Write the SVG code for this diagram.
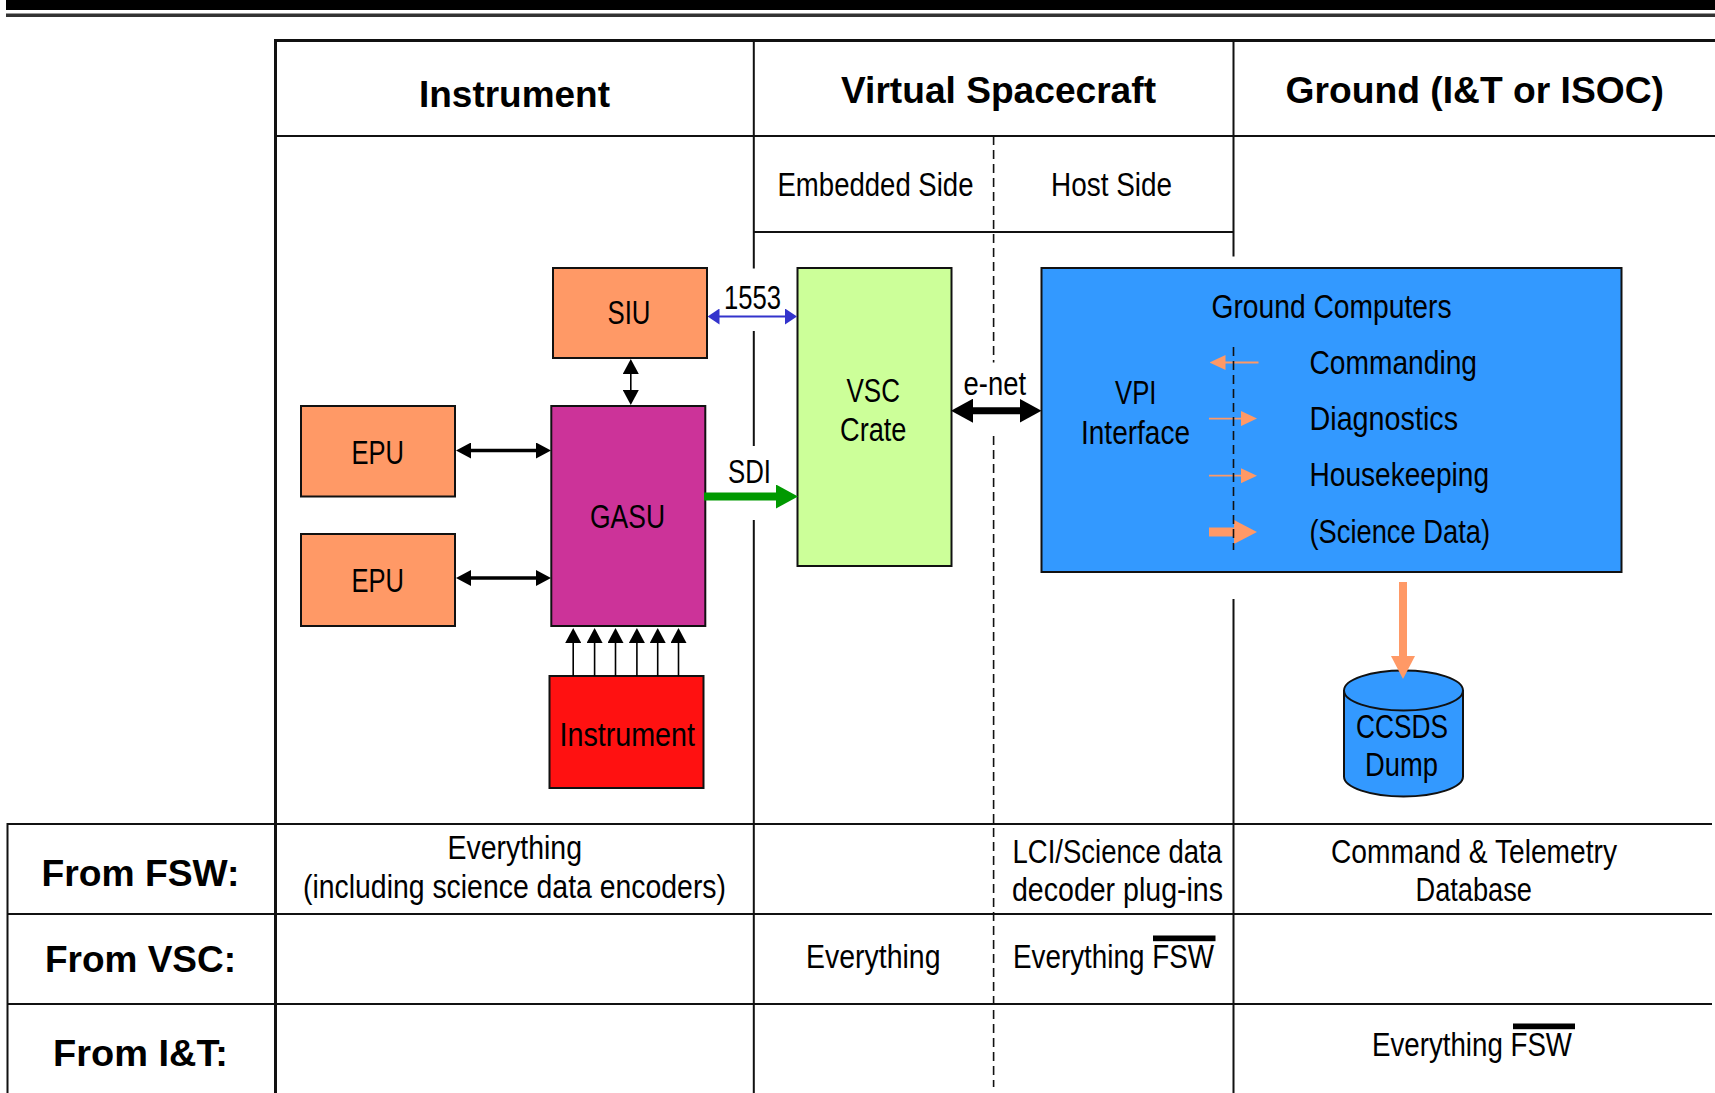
<svg xmlns="http://www.w3.org/2000/svg" width="1715" height="1093" viewBox="0 0 1715 1093">
<style>
text{font-family:"Liberation Sans",Arial,sans-serif;fill:#000;font-size:33px}
.b{font-weight:bold;font-size:37px}
.g{fill:none;stroke:#111;stroke-width:2}
.thick{fill:none;stroke:#111;stroke-width:3}
.d{fill:none;stroke:#111;stroke-width:1.6;stroke-dasharray:9 5}
.n{stroke:#111;stroke-width:2}
.or{fill:#ff9966}.mg{fill:#cc3399}.lg{fill:#ccff99}.bl{fill:#3399ff}.rd{fill:#ff1111}
.a1{fill:none;stroke:#000;stroke-width:1.6}
</style>
<defs>
<marker id="k" markerUnits="userSpaceOnUse" markerWidth="15" markerHeight="16" refX="1" refY="8" orient="auto-start-reverse"><path d="M0 0L15 8L0 16Z" fill="#000"/></marker>
<marker id="u" markerUnits="userSpaceOnUse" markerWidth="12" markerHeight="16" refX="1" refY="8" orient="auto-start-reverse"><path d="M0 0L12 8L0 16Z" fill="#3333cc"/></marker>
<marker id="K" markerUnits="userSpaceOnUse" markerWidth="22" markerHeight="24" refX="1" refY="12" orient="auto-start-reverse"><path d="M0 0L22 12L0 24Z" fill="#000"/></marker>
<marker id="G" markerUnits="userSpaceOnUse" markerWidth="22" markerHeight="24" refX="1" refY="12" orient="auto"><path d="M0 0L22 12L0 24Z" fill="#009900"/></marker>
<marker id="o" markerUnits="userSpaceOnUse" markerWidth="16" markerHeight="15" refX="1" refY="7.5" orient="auto"><path d="M0 0L16 7.5L0 15Z" fill="#ff9966"/></marker>
<marker id="O" markerUnits="userSpaceOnUse" markerWidth="23" markerHeight="24" refX="1" refY="12" orient="auto"><path d="M0 0L23 12L0 24Z" fill="#ff9966"/></marker>
</defs>
<g id="top-rule">
<rect x="6" y="0" width="1709" height="10" fill="#000"/>
<rect x="6" y="13.5" width="1709" height="3.5" fill="#333"/>
</g>
<g id="table">
<path class="thick" d="M275.5 1093V40.5H1715"/>
<path class="g" d="M275.5 136H1715M754 232H1233.5M7.5 1093V824H1712M7.5 914H1712M7.5 1004H1712"/>
<path class="g" d="M753.8 40V268.5M753.8 331V446M753.8 520V1093M1233.5 40V256.5M1233.5 599V1093"/>
<path class="d" d="M993.6 136V362.5M993.6 436V1087"/>
</g>
<g id="headers">
<text class="b" x="419" y="107" textLength="191" lengthAdjust="spacingAndGlyphs">Instrument</text>
<text class="b" x="841" y="102.5" textLength="315" lengthAdjust="spacingAndGlyphs">Virtual Spacecraft</text>
<text class="b" x="1285.5" y="102.5" textLength="378.5" lengthAdjust="spacingAndGlyphs">Ground (I&amp;T or ISOC)</text>
<text x="777.5" y="196" textLength="196" lengthAdjust="spacingAndGlyphs">Embedded Side</text>
<text x="1051" y="196" textLength="121" lengthAdjust="spacingAndGlyphs">Host Side</text>
</g>
<g id="siu"><rect class="n or" x="553" y="268" width="154" height="90"/><text x="607.5" y="324" textLength="43" lengthAdjust="spacingAndGlyphs">SIU</text></g>
<g id="gasu"><rect class="n mg" x="551.3" y="406" width="154" height="220"/><text x="590" y="527.5" textLength="75" lengthAdjust="spacingAndGlyphs">GASU</text></g>
<g id="epu1"><rect class="n or" x="301" y="406" width="154" height="90.5"/><text x="351.5" y="464" textLength="52.5" lengthAdjust="spacingAndGlyphs">EPU</text></g>
<g id="epu2"><rect class="n or" x="301" y="534" width="154" height="92"/><text x="351.5" y="592" textLength="52.5" lengthAdjust="spacingAndGlyphs">EPU</text></g>
<g id="instrument"><rect class="n rd" x="549.5" y="676" width="154" height="112"/><text x="559.5" y="746" textLength="135.5" lengthAdjust="spacingAndGlyphs">Instrument</text></g>
<g id="vsc-crate"><rect class="n lg" x="797.5" y="268" width="154" height="298"/><text x="846.5" y="402" textLength="53.5" lengthAdjust="spacingAndGlyphs">VSC</text><text x="840" y="441" textLength="66.5" lengthAdjust="spacingAndGlyphs">Crate</text></g>
<g id="ground-computers"><rect class="n bl" x="1041.5" y="268" width="580" height="304"/>
<text x="1211.5" y="318" textLength="240" lengthAdjust="spacingAndGlyphs">Ground Computers</text>
<text x="1115" y="404" textLength="41.5" lengthAdjust="spacingAndGlyphs">VPI</text>
<text x="1081" y="443.5" textLength="109" lengthAdjust="spacingAndGlyphs">Interface</text>
<text x="1309.5" y="374" textLength="167.5" lengthAdjust="spacingAndGlyphs">Commanding</text>
<text x="1309.5" y="430" textLength="148.5" lengthAdjust="spacingAndGlyphs">Diagnostics</text>
<text x="1309.5" y="486" textLength="179.5" lengthAdjust="spacingAndGlyphs">Housekeeping</text>
<text x="1309.5" y="543" textLength="180.5" lengthAdjust="spacingAndGlyphs">(Science Data)</text>
</g>
<g id="ccsds-dump">
<path class="n bl" d="M1344 690.5V776.5A59.5 20 0 0 0 1463 776.5V690.5A59.5 20 0 0 0 1344 690.5A59.5 20 0 0 0 1463 690.5"/>
<text x="1356" y="738" textLength="92" lengthAdjust="spacingAndGlyphs">CCSDS</text>
<text x="1365" y="776" textLength="73" lengthAdjust="spacingAndGlyphs">Dump</text>
</g>
<g id="connectors">
<line x1="718.5" y1="316.5" x2="786" y2="316.5" stroke="#3333cc" stroke-width="2.2" marker-start="url(#u)" marker-end="url(#u)"/>
<line class="a1" x1="630.8" y1="373" x2="630.8" y2="391" marker-start="url(#k)" marker-end="url(#k)"/>
<line x1="470" y1="450.5" x2="537" y2="450.5" stroke="#000" stroke-width="3.5" marker-start="url(#k)" marker-end="url(#k)"/>
<line x1="470" y1="578" x2="537" y2="578" stroke="#000" stroke-width="3.5" marker-start="url(#k)" marker-end="url(#k)"/>
<line x1="704" y1="496.5" x2="777" y2="496.5" stroke="#009900" stroke-width="8" marker-end="url(#G)"/>
<line x1="972" y1="410.7" x2="1020.5" y2="410.7" stroke="#000" stroke-width="7" marker-start="url(#K)" marker-end="url(#K)"/>
<line class="a1" x1="573.2" y1="676" x2="573.2" y2="642" marker-end="url(#k)"/>
<line class="a1" x1="594.6" y1="676" x2="594.6" y2="642" marker-end="url(#k)"/>
<line class="a1" x1="615.5" y1="676" x2="615.5" y2="642" marker-end="url(#k)"/>
<line class="a1" x1="636.9" y1="676" x2="636.9" y2="642" marker-end="url(#k)"/>
<line class="a1" x1="657.7" y1="676" x2="657.7" y2="642" marker-end="url(#k)"/>
<line class="a1" x1="678.5" y1="676" x2="678.5" y2="642" marker-end="url(#k)"/>
<line x1="1258.5" y1="362.5" x2="1224.5" y2="362.5" stroke="#ff9966" stroke-width="1.8" marker-end="url(#o)"/>
<line x1="1209" y1="418.6" x2="1242" y2="418.6" stroke="#ff9966" stroke-width="1.8" marker-end="url(#o)"/>
<line x1="1209" y1="475.7" x2="1242" y2="475.7" stroke="#ff9966" stroke-width="1.8" marker-end="url(#o)"/>
<line x1="1209" y1="532" x2="1235" y2="532" stroke="#ff9966" stroke-width="9" marker-end="url(#O)"/>
<line x1="1403" y1="582" x2="1403" y2="657" stroke="#ff9966" stroke-width="8" marker-end="url(#O)"/>
<path class="d" d="M1233.5 347V550"/>
</g>
<g id="connector-labels">
<text x="724" y="309" textLength="57" lengthAdjust="spacingAndGlyphs">1553</text>
<text x="728" y="483" textLength="43" lengthAdjust="spacingAndGlyphs">SDI</text>
<text x="963.5" y="395" textLength="62.5" lengthAdjust="spacingAndGlyphs">e-net</text>
</g>
<g id="row-labels">
<text class="b" x="41.5" y="886" textLength="198" lengthAdjust="spacingAndGlyphs">From FSW:</text>
<text class="b" x="45" y="971.5" textLength="191" lengthAdjust="spacingAndGlyphs">From VSC:</text>
<text class="b" x="53" y="1066" textLength="175" lengthAdjust="spacingAndGlyphs">From I&amp;T:</text>
</g>
<g id="cells">
<text x="447.5" y="859" textLength="134.5" lengthAdjust="spacingAndGlyphs">Everything</text>
<text x="303" y="898" textLength="423" lengthAdjust="spacingAndGlyphs">(including science data encoders)</text>
<text x="1012.5" y="863" textLength="209.5" lengthAdjust="spacingAndGlyphs">LCI/Science data</text>
<text x="1012" y="901" textLength="211" lengthAdjust="spacingAndGlyphs">decoder plug-ins</text>
<text x="1331" y="863" textLength="286" lengthAdjust="spacingAndGlyphs">Command &amp; Telemetry</text>
<text x="1415.5" y="900.5" textLength="116.5" lengthAdjust="spacingAndGlyphs">Database</text>
<text x="806" y="968" textLength="134.5" lengthAdjust="spacingAndGlyphs">Everything</text>
<text x="1013" y="968" textLength="201" lengthAdjust="spacingAndGlyphs">Everything FSW</text>
<rect x="1153" y="935.5" width="62.5" height="5.7" fill="#000"/>
<text x="1372" y="1056" textLength="200" lengthAdjust="spacingAndGlyphs">Everything FSW</text>
<rect x="1513" y="1023.5" width="62" height="5.7" fill="#000"/>
</g>
</svg>
